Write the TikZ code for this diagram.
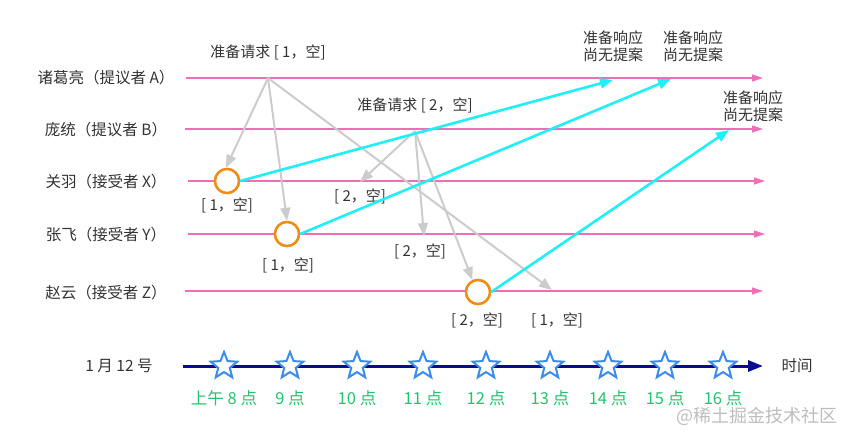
\documentclass[tikz,border=0pt]{standalone}
\usepackage{fontspec}
\setmainfont{Noto Sans CJK SC}
\usetikzlibrary{arrows.meta,shapes.geometric}
\definecolor{txt}{HTML}{333333}
\definecolor{pinkl}{HTML}{F06EB4}
\definecolor{grayl}{HTML}{CCCCCC}
\definecolor{cyanl}{HTML}{1EF0F5}
\definecolor{orangec}{HTML}{F08C14}
\definecolor{navyl}{HTML}{0A0A96}
\definecolor{starb}{HTML}{3C8CF0}
\definecolor{greent}{HTML}{21C46E}
\definecolor{wm}{HTML}{BDBDBD}
\tikzset{
  x=1pt, y=-1pt,
  lbl/.style={font=\fontsize{15.5}{18}\selectfont, text=txt, inner sep=0pt},
  note/.style={font=\fontsize{15}{17.5}\selectfont, text=txt, inner sep=0pt, align=center},
  pinkline/.style={draw=pinkl, line width=1.2pt, -{Triangle[length=11pt,width=7pt]}},
  req/.style={draw=grayl, line width=2pt, -{Triangle[length=13pt,width=10pt]}},
  resp/.style={draw=cyanl, line width=2.6pt, -{Triangle[length=13pt,width=10pt]}},
  circ/.style={circle, draw=orangec, line width=2.4pt, fill=white, minimum size=24pt, inner sep=0pt},
  stard/.style={star, star points=5, star point ratio=2.3, draw=starb, fill=white, line width=2pt, minimum size=28pt, inner sep=0pt},
  hour/.style={font=\fontsize{16.5}{19}\selectfont, text=greent, inner sep=0pt},
}
\begin{document}
\begin{tikzpicture}
\useasboundingbox (0,0) rectangle (852,441);
% left labels
\node[lbl] (LA) at (106,78) {诸葛亮（提议者 A）};
\node[lbl] (LB) at (106,130) {庞统（提议者 B）};
\node[lbl] (LX) at (106,182) {关羽（接受者 X）};
\node[lbl] (LY) at (106,235) {张飞（接受者 Y）};
\node[lbl] (LZ) at (106,293) {赵云（接受者 Z）};
\node[lbl] (LD) at (119,366) {1 月 12 号};
% lane lines
\coordinate (A0) at (186,78);  \coordinate (A1) at (763,78);
\coordinate (B0) at (185,129); \coordinate (B1) at (763,129);
\coordinate (X0) at (188,181); \coordinate (X1) at (765,181);
\coordinate (Y0) at (188,234); \coordinate (Y1) at (765,234);
\coordinate (Z0) at (185,291); \coordinate (Z1) at (763,291);
\draw[pinkline] (A0) -- (A1);
\draw[pinkline] (B0) -- (B1);
\draw[pinkline] (X0) -- (X1);
\draw[pinkline] (Y0) -- (Y1);
\draw[pinkline] (Z0) -- (Z1);
% request notes
\node[note] (R1) at (268,52) {准备请求 [ 1，空]};
\node[note] (R2) at (415,105) {准备请求 [ 2，空]};
% request origins and targets
\coordinate (P1) at (268,78);
\coordinate (P2) at (415,131);
\node[circ] (CX) at (227,181) {};
\node[circ] (CY) at (287,234) {};
\node[circ] (CZ) at (478,292) {};
\coordinate (T1Z) at (552,290);
\coordinate (T2X) at (360,182);
\coordinate (T2Y) at (424,236);
% gray request arrows
\draw[req] (P1) -- (CX.95);
\draw[req] (P1) -- (CY.north);
\draw[req] (P1) -- (T1Z);
\draw[req] (P2) -- (T2X);
\draw[req] (P2) -- (T2Y);
\draw[req] (P2) -- (CZ.115);
% redraw circles on top
\node[circ] at (CX) {};
\node[circ] at (CY) {};
\node[circ] at (CZ) {};
% value labels
\node[note] (VX) at (227,205) {[ 1，空]};
\node[note] (VY) at (288,265) {[ 1，空]};
\node[note] (VZ) at (477,320) {[ 2，空]};
\node[note] (V2X) at (360,196) {[ 2，空]};
\node[note] (V2Y) at (420,251) {[ 2，空]};
\node[note] (V1Z) at (557,320) {[ 1，空]};
% responses
\coordinate (E1) at (613,80);
\coordinate (E2) at (671,79);
\coordinate (E3) at (729,130);
\draw[resp] (CX.east) -- (E1);
\draw[resp] (CY.east) -- (E2);
\draw[resp] (CZ.east) -- (E3);
\node[note] (N1) at (613,46) {准备响应\\尚无提案};
\node[note] (N2) at (693,46) {准备响应\\尚无提案};
\node[note] (N3) at (753,106) {准备响应\\尚无提案};
% time axis
\coordinate (T0) at (183,366);
\coordinate (T1) at (763,366);
\draw[draw=navyl, line width=3pt, -{Triangle[length=15pt,width=11pt]}] (T0) -- (T1);
\node[lbl] (TL) at (797,366) {时间};
\foreach \n/\x/\t in {s8/224/上午 8 点, s9/290/9 点, s10/357/10 点, s11/423/11 点, s12/486/12 点, s13/550/13 点, s14/608/14 点, s15/665/15 点, s16/723/16 点}{
  \node[stard] (\n) at (\x,366) {};
  \node[hour] (h\n) at (\x,398) {\t};
}
\node[font=\fontsize{18}{20}\selectfont, text=wm, inner sep=0pt] (WM) at (757,416) {@稀土掘金技术社区};
\end{tikzpicture}
\end{document}
